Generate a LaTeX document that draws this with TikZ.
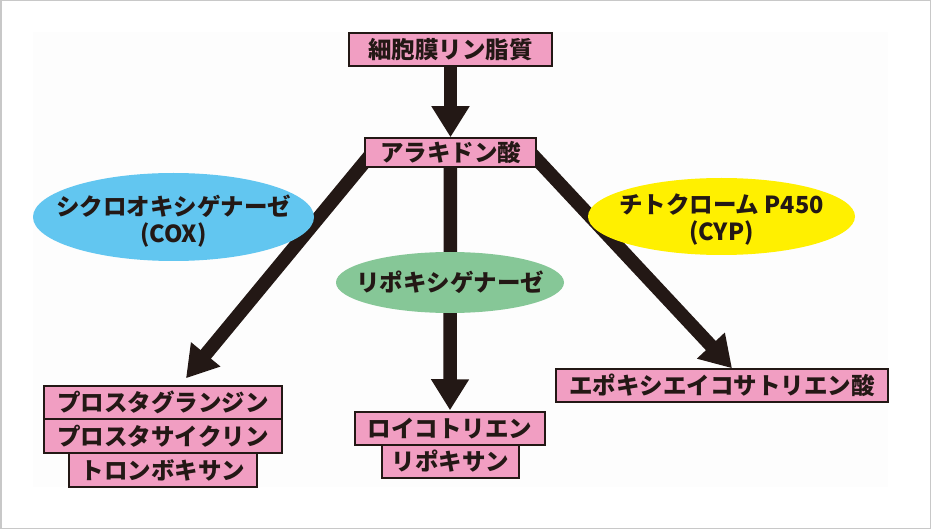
\documentclass[tikz,border=0pt]{standalone}
\usepackage{fontspec}
\setmainfont{Noto Sans CJK JP}
\usetikzlibrary{arrows.meta,shapes.geometric}
\definecolor{ink}{HTML}{231815}
\definecolor{boxpink}{HTML}{F19EC2}
\definecolor{coxblue}{HTML}{62C6F0}
\definecolor{cypyellow}{HTML}{FFF000}
\definecolor{loxgreen}{HTML}{86C797}
\definecolor{frame}{HTML}{C8C8C8}
\definecolor{panel}{HTML}{FDFDFD}
\pgfdeclarelayer{behind}
\pgfsetlayers{behind,main}
\tikzset{
  pbox/.style={draw=ink, line width=1.5pt, fill=boxpink, inner sep=0pt,
    minimum height=33pt, font=\fontsize{23.5}{26}\selectfont\bfseries, text=ink},
  enz/.style={ellipse, inner sep=0pt},
  enztext/.style={align=center, inner sep=0pt,
    font=\fontsize{23.5}{27}\selectfont\bfseries, text=ink},
  bigarrow/.style={draw=ink, line width=13.5pt,
    -{Triangle[length=31pt,width=36pt]}}
}
\begin{document}
\begin{tikzpicture}[x=1pt,y=-1pt]
\useasboundingbox (0,0) rectangle (931,529);
% boxes
\node[pbox, minimum width=203pt] (mem) at (450.5,49.5) {細胞膜リン脂質};
\node[pbox, minimum width=171pt, minimum height=29pt] (ara) at (450.5,152.5) {アラキドン酸};
\node[pbox, minimum width=238pt] (pg) at (163,402.5) {プロスタグランジン};
\node[pbox, minimum width=238pt, minimum height=34pt] (pc) at (163,436) {プロスタサイクリン};
\node[pbox, minimum width=188pt, minimum height=34pt] (tx) at (163,470) {トロンボキサン};
\node[pbox, minimum width=190pt] (lt) at (450,428.5) {ロイコトリエン};
\node[pbox, minimum width=137pt] (lx) at (450.5,461.5) {リポキサン};
\node[pbox, minimum width=332pt] (ep) at (722,385.5) {エポキシエイコサトリエン酸};
% enzymes
\node[enz, fill=coxblue, minimum width=281pt, minimum height=88pt,
  label={[enztext, yshift=-4pt]center:シクロオキシゲナーゼ\\(COX)}] (cox) at (173.5,217) {};
\node[enz, fill=cypyellow, minimum width=267pt, minimum height=77pt,
  label={[enztext, yshift=-3.5pt]center:チトクローム P450\\(CYP)}] (cyp) at (721.5,216.5) {};
\node[enz, fill=loxgreen, minimum width=228pt, minimum height=61pt,
  label={[enztext]center:リポキシゲナーゼ}] (lox) at (450,282.5) {};
% background and arrows
\begin{pgfonlayer}{behind}
\draw[frame, line width=1.5pt] (0.75,0.75) rectangle (930.25,528.25);
\fill[panel] (33,32) rectangle (888,487);
\draw[bigarrow] (mem.south) -- (ara.north);
\draw[bigarrow] (ara.center) -- ([yshift=1pt]lt.north);
\draw[bigarrow] ([xshift=-78pt]ara.center) -- ([xshift=23pt,yshift=7pt]pg.north);
\draw[bigarrow] ([xshift=80pt]ara.center) -- ([xshift=10pt]ep.north);
\end{pgfonlayer}
\end{tikzpicture}
\end{document}
